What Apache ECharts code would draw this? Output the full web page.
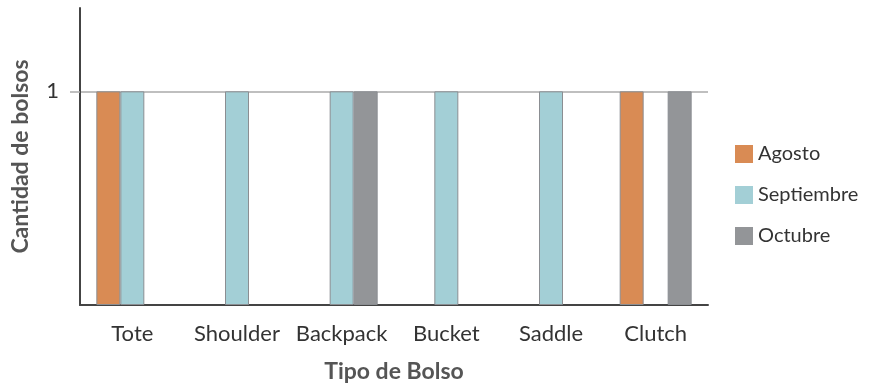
<!DOCTYPE html>
<html>
<head>
<meta charset="utf-8">
<script src="https://cdn.jsdelivr.net/npm/echarts@6/dist/echarts.min.js"></script>
<style>
  html, body { margin: 0; padding: 0; background: #fff; }
  #chart { width: 871px; height: 389px; }
</style>
</head>
<body>
<div id="chart"></div>
<script>
// tipos de bolso
const categories = ['Tote', 'Shoulder', 'Backpack', 'Bucket', 'Saddle', 'Clutch'];
const agosto = [1, 0, 0, 0, 0, 1];
const septiembre = [1, 1, 1, 1, 1, 0];
const octubre = [0, 0, 1, 0, 0, 1];
const yTicks = [1];

const chart = echarts.init(document.getElementById('chart'));
const font = 'Lato, "Noto Sans", sans-serif';

function barSeries(name, data, color) {
  return {
    name: name,
    type: 'bar',
    // 0 -> vacío, para no dibujar el borde sobre el eje
    data: data.map(v => (v === 0 ? '-' : v)),
    barWidth: 24,
    barGap: '0%',
    itemStyle: { color: color, borderColor: '#8b8e92', borderWidth: 1 }
  };
}

const option = {
  animation: false,
  textStyle: { fontFamily: font },
  grid: { left: 80, right: 163, top: 8, bottom: 84 },
  legend: {
    orient: 'vertical',
    left: 730,
    top: 139,
    itemWidth: 18,
    itemHeight: 18,
    itemGap: 21,
    icon: 'rect',
    itemStyle: { borderWidth: 0 },
    textStyle: { fontSize: 20, color: '#333', fontFamily: font, padding: [0, 0, 0, 0] },
    data: ['Agosto', 'Septiembre', 'Octubre']
  },
  xAxis: {
    type: 'category',
    data: categories,
    name: 'Tipo de Bolso',
    nameLocation: 'middle',
    nameGap: 55,
    nameTextStyle: { fontSize: 23, fontWeight: 'bold', color: '#555', fontFamily: font },
    axisLine: { lineStyle: { color: '#444', width: 2 } },
    axisTick: { show: false },
    axisLabel: { fontSize: 22, color: '#333', margin: 18, interval: 0 }
  },
  yAxis: {
    type: 'value',
    min: 0,
    max: 1.39,
    interval: 1,
    name: 'Cantidad de bolsos',
    nameLocation: 'middle',
    nameGap: 48,
    nameTextStyle: { fontSize: 23, fontWeight: 'bold', color: '#555', fontFamily: font },
    axisLine: { show: true, lineStyle: { color: '#444', width: 2 } },
    axisTick: { show: true, length: 10, customValues: yTicks, lineStyle: { color: '#aaa', width: 1.5 } },
    axisLabel: { fontSize: 22, color: '#333', margin: 21, customValues: yTicks },
    splitLine: { show: true, lineStyle: { color: '#aaa', width: 1.5 } }
  },
  series: [
    barSeries('Agosto', agosto, '#d98b54'),
    barSeries('Septiembre', septiembre, '#a3cfd6'),
    barSeries('Octubre', octubre, '#939598')
  ]
};

chart.setOption(option);
</script>
</body>
</html>
